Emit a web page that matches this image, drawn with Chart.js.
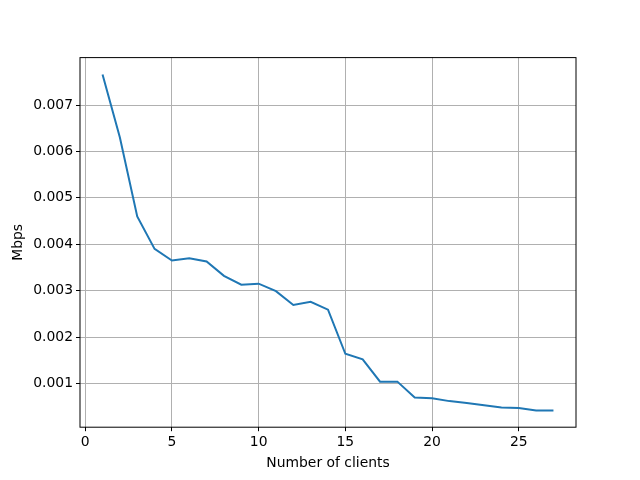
<!DOCTYPE html>
<html>
<head>
<meta charset="utf-8">
<script src="https://cdn.jsdelivr.net/npm/chart.js@4"></script>
<style>
  html, body { margin: 0; padding: 0; background: #fff; }
  canvas { display: block; }
</style>
</head>
<body>
<canvas id="chart" width="640" height="480"></canvas>
<script>
// clients on the x axis, throughput in Mbps
const clients = [1, 2, 3, 4, 5, 6, 7, 8, 9, 10, 11, 12, 13, 14, 15, 16, 17, 18, 19, 20, 21, 22, 23, 24, 25, 26, 27];
const mbps = [
  0.00766, 0.00630, 0.00460, 0.00390, 0.00365, 0.00370, 0.00363, 0.00332, 0.00313, 0.00315,
  0.00299, 0.00269, 0.00276, 0.00259, 0.00164, 0.00152, 0.00104, 0.00104, 0.00070, 0.00068,
  0.00062, 0.00058, 0.00053, 0.00048, 0.00047, 0.00042, 0.00042,
];
const xTicks = [0, 5, 10, 15, 20, 25];
const yTicks = [0.001, 0.002, 0.003, 0.004, 0.005, 0.006, 0.007];

const font = { family: "'DejaVu Sans', sans-serif", size: 13.9 };

// matplotlib-style closed box round the plot area
const frame = {
  id: "frame",
  afterDraw(chart) {
    const { ctx, chartArea: a } = chart;
    ctx.save();
    ctx.strokeStyle = "#000";
    ctx.lineWidth = 1;
    ctx.strokeRect(a.left, a.top, a.right - a.left, a.bottom - a.top);
    ctx.restore();
  },
};

new Chart(document.getElementById("chart"), {
  type: "line",
  data: {
    datasets: [
      {
        data: clients.map((c, i) => ({ x: c, y: mbps[i] })),
        borderColor: "#1f77b4",
        borderWidth: 2,
        pointRadius: 0,
        tension: 0,
        fill: false,
      },
    ],
  },
  options: {
    responsive: false,
    animation: false,
    layout: { padding: { left: 0, top: 57.6, right: 64, bottom: 0 } },
    plugins: {
      legend: { display: false },
      tooltip: { enabled: false },
    },
    scales: {
      x: {
        type: "linear",
        min: -0.3,
        max: 28.3,
        afterFit: (s) => { s.height = 52.8; },
        afterBuildTicks: (s) => { s.ticks = xTicks.map((v) => ({ value: v })); },
        grid: { color: "#b0b0b0", lineWidth: 1, tickColor: "#000", tickLength: 4 },
        border: { display: false },
        ticks: { color: "#000", font, padding: 3, maxRotation: 0 },
        title: { display: true, text: "Number of clients", color: "#000", font, padding: { top: 2, bottom: 8 } },
      },
      y: {
        min: 0.000058,
        max: 0.008022,
        afterFit: (s) => { s.width = 80; },
        afterBuildTicks: (s) => { s.ticks = yTicks.map((v) => ({ value: v })); },
        grid: { color: "#b0b0b0", lineWidth: 1, tickColor: "#000", tickLength: 4 },
        border: { display: false },
        ticks: { color: "#000", font, padding: 3, callback: (v) => v.toFixed(3) },
        title: { display: true, text: "Mbps", color: "#000", font, padding: 10 },
      },
    },
  },
  plugins: [frame],
});
</script>
</body>
</html>
